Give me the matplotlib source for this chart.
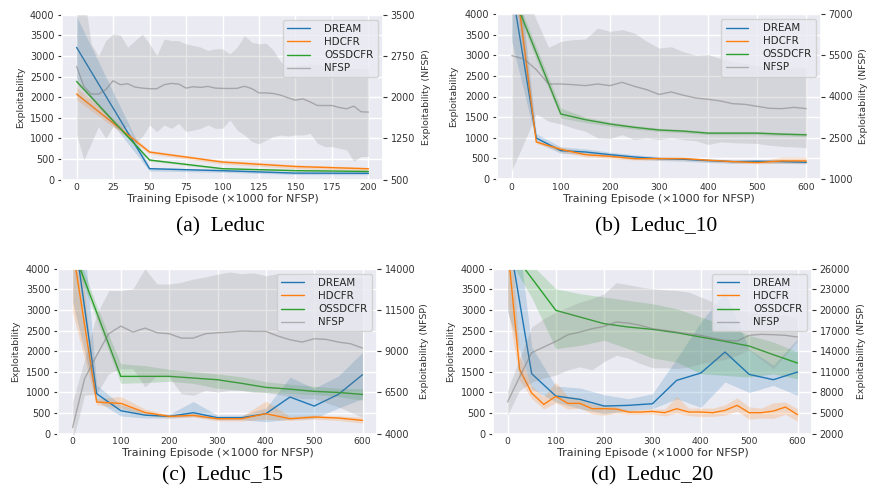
import numpy as np
import matplotlib
matplotlib.use("Agg")
import matplotlib.pyplot as plt
import seaborn as sns

sns.set_theme(style="darkgrid")
plt.rcParams["font.family"] = ["DejaVu Sans"]

# ---------------- data ----------------
alg_names = ["DREAM", "HDCFR", "OSSDCFR", "NFSP"]
captions = ["(a)  Leduc", "(b)  Leduc_10", "(c)  Leduc_15", "(d)  Leduc_20"]

# (a) Leduc
x_a = [0, 50, 100, 150, 200]
dream_a = [3207, 267, 218, 160, 155]
dream_a_lo = [2460, 210, 180, 125, 120]
dream_a_hi = [3960, 300, 250, 190, 185]
hdcfr_a = [2076, 670, 428, 320, 265]
hdcfr_a_lo = [1940, 630, 380, 270, 225]
hdcfr_a_hi = [2237, 710, 470, 360, 300]
ossd_a = [2383, 477, 267, 220, 200]
ossd_a_lo = [2330, 450, 245, 200, 180]
ossd_a_hi = [2430, 500, 290, 245, 225]
x_nfsp_a = list(range(0, 205, 5))
nfsp_a = [2560, 2195, 2057, 2057, 2136, 2299, 2227, 2245, 2184, 2166, 2154, 2154, 2227, 2251,
          2239, 2166, 2190, 2178, 2196, 2166, 2160, 2158, 2161, 2199, 2157, 2078, 2078, 2066,
          2036, 1988, 1946, 1970, 1916, 1849, 1849, 1849, 1813, 1789, 1837, 1735, 1729]
nfsp_a_hi = [4625, 3875, 2975, 2750, 3030, 3150, 3132, 2910, 3030, 3150, 2970, 2759, 3060, 3030,
             3030, 2970, 2940, 2910, 2850, 2880, 2880, 2789, 2910, 3120, 3000, 2970, 2982, 2850,
             2638, 2548, 2578, 2585, 2600, 2585, 2562, 2540, 2525, 2525, 2525, 2518, 2518]
nfsp_a_lo = [1313, 862, 1163, 1464, 1253, 1464, 1404, 1475, 1163, 1283, 1494, 1374, 1494, 1434,
             1524, 1374, 1404, 1434, 1494, 1434, 1434, 1585, 1404, 1313, 1193, 1150, 1223, 1283,
             1313, 1295, 1313, 1313, 1343, 1163, 1102, 1102, 1072, 1042, 832, 922, 922]

# (b) Leduc_10
x_b = [0, 50, 100, 150, 200, 250, 300, 350, 400, 450, 500, 550, 600]
dream_b = [4642, 994, 687, 655, 590, 533, 493, 479, 446, 422, 430, 422, 406]
dream_b_lo = [3337, 900, 620, 600, 540, 480, 450, 430, 400, 380, 390, 380, 370]
dream_b_hi = [6500, 1100, 780, 730, 650, 590, 540, 520, 490, 460, 470, 460, 450]
hdcfr_b = [5585, 897, 719, 590, 550, 493, 493, 495, 455, 422, 398, 438, 438]
hdcfr_b_lo = [5000, 860, 660, 540, 500, 460, 460, 460, 420, 390, 370, 380, 380]
hdcfr_b_hi = [6200, 940, 770, 640, 600, 530, 530, 530, 490, 460, 430, 530, 530]
ossd_b = [4538, 3060, 1576, 1438, 1333, 1252, 1188, 1161, 1112, 1112, 1112, 1088, 1071]
ossd_b_lo = [4400, 2900, 1480, 1370, 1280, 1210, 1150, 1120, 1075, 1075, 1075, 1050, 1030]
ossd_b_hi = [4700, 3200, 1720, 1500, 1380, 1300, 1230, 1200, 1150, 1150, 1150, 1125, 1110]
x_nfsp_600 = list(range(0, 625, 25))
nfsp_b = [5485, 5364, 4975, 4455, 4455, 4431, 4395, 4455, 4395, 4515, 4369, 4249, 4075, 4165,
          4044, 3946, 3898, 3837, 3739, 3715, 3642, 3570, 3558, 3606, 3558]
nfsp_b_hi = [8800, 7900, 6790, 5788, 6006, 6067, 6091, 6490, 6370, 6430, 6309, 6006, 5764, 5809,
             5626, 5505, 5529, 5383, 5275, 5200, 5125, 5050, 5050, 5050, 5050]
nfsp_b_lo = [1303, 2320, 3364, 3097, 3000, 2854, 2734, 2491, 2467, 2613, 2431, 2491, 2431, 2500,
             2425, 2395, 2254, 2350, 2320, 2305, 2290, 2230, 2185, 2170, 2133]

# (c) Leduc_15
x_c = [0, 50, 100, 150, 200, 250, 300, 350, 400, 450, 500, 550, 600]
dream_c = [5150, 970, 557, 450, 420, 509, 388, 388, 485, 889, 670, 953, 1430]
dream_c_lo = [3200, 800, 430, 380, 380, 420, 340, 340, 290, 350, 370, 620, 850]
dream_c_hi = [8000, 1180, 700, 520, 470, 780, 450, 450, 620, 1370, 1100, 1400, 1970]
hdcfr_c = [4517, 767, 735, 515, 420, 444, 363, 363, 485, 363, 404, 380, 323]
hdcfr_c_lo = [2950, 700, 620, 450, 380, 400, 310, 310, 350, 320, 350, 320, 260]
hdcfr_c_hi = [6000, 850, 900, 600, 460, 500, 420, 420, 790, 420, 450, 430, 400]
ossd_c = [4494, 2941, 1389, 1390, 1390, 1350, 1308, 1220, 1123, 1080, 1026, 1000, 953]
ossd_c_lo = [4300, 2780, 1220, 1240, 1270, 1220, 1100, 1050, 1000, 980, 950, 900, 810]
ossd_c_hi = [4700, 3100, 1696, 1650, 1560, 1500, 1450, 1380, 1260, 1200, 1150, 1100, 1090]
nfsp_c = [4363, 7333, 8745, 10058, 10523, 10158, 10400, 10118, 10058, 9795, 9795, 10058, 10118,
          10158, 10220, 10200, 10200, 9918, 9695, 9553, 9755, 9715, 9553, 9453, 9190]
nfsp_c_hi = [5925, 8500, 11250, 12675, 12675, 12775, 14000, 13075, 13075, 13175, 13375, 13500,
             13675, 13800, 13700, 13750, 13575, 13700, 13650, 13625, 13550, 13500, 13500, 13500, 13500]
nfsp_c_lo = [3500, 6325, 6425, 7635, 7938, 7938, 6828, 7535, 7433, 6425, 6325, 6625, 6525, 6625,
             6625, 6500, 6500, 6375, 6250, 6125, 6125, 5875, 5625, 5300, 5000]

# (d) Leduc_20
x_d = [0, 50, 100, 150, 200, 250, 300, 350, 400, 450, 500, 550, 600]
dream_d = [4950, 1455, 913, 832, 671, 687, 727, 1293, 1471, 1980, 1438, 1309, 1495]
dream_d_lo = [2950, 1090, 768, 606, 485, 566, 606, 848, 640, 1253, 1000, 1172, 929]
dream_d_hi = [7000, 2100, 1155, 1107, 945, 848, 970, 1818, 2707, 3434, 2050, 1657, 2303]
hdcfr_d = [4579, 1560, 986, 711, 905, 735, 735, 606, 606, 598, 525, 525, 541, 509, 606, 525,
           525, 509, 566, 687, 509, 509, 549, 646, 461]
hdcfr_d_lo = [3111, 1300, 850, 600, 750, 600, 620, 480, 450, 500, 470, 470, 480, 430, 500, 440,
              420, 420, 450, 550, 350, 380, 370, 470, 300]
hdcfr_d_hi = [6000, 1900, 1150, 900, 1250, 900, 870, 720, 700, 650, 580, 580, 600, 600, 900, 620,
              620, 620, 700, 870, 650, 620, 750, 770, 600]
ossd_d = [4552, 3772, 2990, 2828, 2667, 2586, 2529, 2448, 2343, 2238, 2125, 1915, 1713]
ossd_d_lo = [4300, 3300, 2060, 2141, 2263, 2060, 1834, 1737, 1455, 1414, 1374, 1450, 1333]
ossd_d_hi = [4800, 4100, 3515, 3394, 3313, 3232, 3151, 3030, 2828, 2626, 2384, 2222, 1980]
nfsp_d = [6608, 10244, 13784, 14606, 15428, 16400, 16790, 17270, 17612, 18242, 18098, 17756,
          17270, 17030, 16790, 16544, 16304, 15914, 15578, 15476, 16304, 16448, 16400, 16304, 16058]
nfsp_d_hi = [8300, 12908, 17516, 18728, 19694, 20420, 21152, 21638, 22364, 23966, 23672, 23336,
             23090, 22940, 22850, 22604, 21878, 21152, 20180, 20000, 19700, 19400, 19400, 19220, 18800]
nfsp_d_lo = [4664, 8300, 9500, 10100, 10520, 11300, 11720, 11300, 12500, 13400, 12980, 12200,
             11600, 11600, 11480, 11720, 12200, 12500, 12800, 13400, 14180, 12800, 11480, 13400, 15500]

left_ticks = [0, 500, 1000, 1500, 2000, 2500, 3000, 3500, 4000]
xticks_a = [0, 25, 50, 75, 100, 125, 150, 175, 200]
xticks_600 = [0, 100, 200, 300, 400, 500, 600]
right_ticks = [
    [500, 1250, 2000, 2750, 3500],
    [1000, 2500, 4000, 5500, 7000],
    [4000, 6500, 9000, 11500, 14000],
    [2000, 5000, 8000, 11000, 14000, 17000, 20000, 23000, 26000],
]

# ---------------- drawing ----------------
COLORS = {"DREAM": "#1f77b4", "HDCFR": "#ff7f0e", "OSSDCFR": "#2ca02c", "NFSP": "gray"}

fig = plt.figure(figsize=(8.69, 4.91), dpi=100)

rects = [
    [62 / 869, 1 - 179.7 / 491, 321 / 869, 165 / 491],
    [497 / 869, 1 - 179.0 / 491, 324 / 869, 165 / 491],
    [58 / 869, 1 - 433.7 / 491, 319 / 869, 165 / 491],
    [493 / 869, 1 - 433.7 / 491, 319 / 869, 165 / 491],
]
ylab_x = [(-0.129, 1.137), (-0.133, 1.13), (-0.132, 1.15), (-0.133, 1.156)]
cap_pos = [(220, 226.5), (656, 226.5), (222, 475.5), (652, 475.5)]

panels = [
    dict(alg=[(x_a, dream_a, dream_a_lo, dream_a_hi),
              (x_a, hdcfr_a, hdcfr_a_lo, hdcfr_a_hi),
              (x_a, ossd_a, ossd_a_lo, ossd_a_hi)],
         nfsp=(x_nfsp_a, nfsp_a, nfsp_a_lo, nfsp_a_hi), xticks=xticks_a),
    dict(alg=[(x_b, dream_b, dream_b_lo, dream_b_hi),
              (x_b, hdcfr_b, hdcfr_b_lo, hdcfr_b_hi),
              (x_b, ossd_b, ossd_b_lo, ossd_b_hi)],
         nfsp=(x_nfsp_600, nfsp_b, nfsp_b_lo, nfsp_b_hi), xticks=xticks_600),
    dict(alg=[(x_c, dream_c, dream_c_lo, dream_c_hi),
              (x_c, hdcfr_c, hdcfr_c_lo, hdcfr_c_hi),
              (x_c, ossd_c, ossd_c_lo, ossd_c_hi)],
         nfsp=(x_nfsp_600, nfsp_c, nfsp_c_lo, nfsp_c_hi), xticks=xticks_600),
    dict(alg=[(x_d, dream_d, dream_d_lo, dream_d_hi),
              (x_nfsp_600, hdcfr_d, hdcfr_d_lo, hdcfr_d_hi),
              (x_d, ossd_d, ossd_d_lo, ossd_d_hi)],
         nfsp=(x_nfsp_600, nfsp_d, nfsp_d_lo, nfsp_d_hi), xticks=xticks_600),
]

TXT = ".2"
for i, p in enumerate(panels):
    ax = fig.add_axes(rects[i])
    handles = []
    for name, (xs, m, lo, hi) in zip(alg_names[:3], p["alg"]):
        c = COLORS[name]
        ax.fill_between(xs, lo, hi, color=c, alpha=0.2, linewidth=0)
        h, = ax.plot(xs, m, color=c, lw=1.0, label=name)
        handles.append(h)
    ax.set_ylim(0, 4000)
    ax.set_yticks(left_ticks)
    ax.set_xticks(p["xticks"])
    xr = p["xticks"][-1]
    ax.set_xlim(-0.05 * xr, 1.05 * xr)
    ax.tick_params(axis="y", left=True, length=3, width=0.8, color=TXT,
                   labelsize=6.9, pad=2.5, labelcolor=TXT)
    ax.tick_params(axis="x", bottom=False, length=0, labelsize=6.7, pad=2.6, labelcolor=TXT)
    ax.set_ylabel("Exploitability", fontsize=6.8, color=TXT, va="center")
    ax.yaxis.set_label_coords(ylab_x[i][0], 0.5)
    ax.set_xlabel("Training Episode (\u00d71000 for NFSP)", fontsize=8.0, color=TXT, va="center")
    ax.xaxis.set_label_coords(0.5, -0.12)

    ax2 = ax.twinx()
    ax2.grid(False)
    xs, m, lo, hi = p["nfsp"]
    ax2.fill_between(xs, lo, hi, color="gray", alpha=0.2, linewidth=0)
    h, = ax2.plot(xs, m, color="gray", alpha=0.55, lw=1.0, label="NFSP")
    handles.append(h)
    rt = right_ticks[i]
    ax2.set_ylim(rt[0], rt[-1])
    ax2.set_yticks(rt)
    ax2.tick_params(axis="y", right=True, length=3, width=0.8, color=TXT,
                    labelsize=6.9, pad=2.5, labelcolor=TXT)
    ax2.set_ylabel("Exploitability (NFSP)", fontsize=6.8, color=TXT, va="center")
    ax2.yaxis.set_label_coords(ylab_x[i][1], 0.5)
    for s in ax2.spines.values():
        s.set_visible(False)

    ax2.legend(handles=handles, labels=alg_names, loc="upper right", fontsize=7.4,
               handlelength=2.2, labelspacing=0.3, borderpad=0.4,
               handletextpad=1.4, borderaxespad=0.5)

    fig.text(cap_pos[i][0] / 869, 1 - cap_pos[i][1] / 491, captions[i],
             family=["Liberation Serif", "DejaVu Serif"], fontsize=15.5,
             ha="center", va="center", color="black")

fig.savefig("out.png", dpi=100)
